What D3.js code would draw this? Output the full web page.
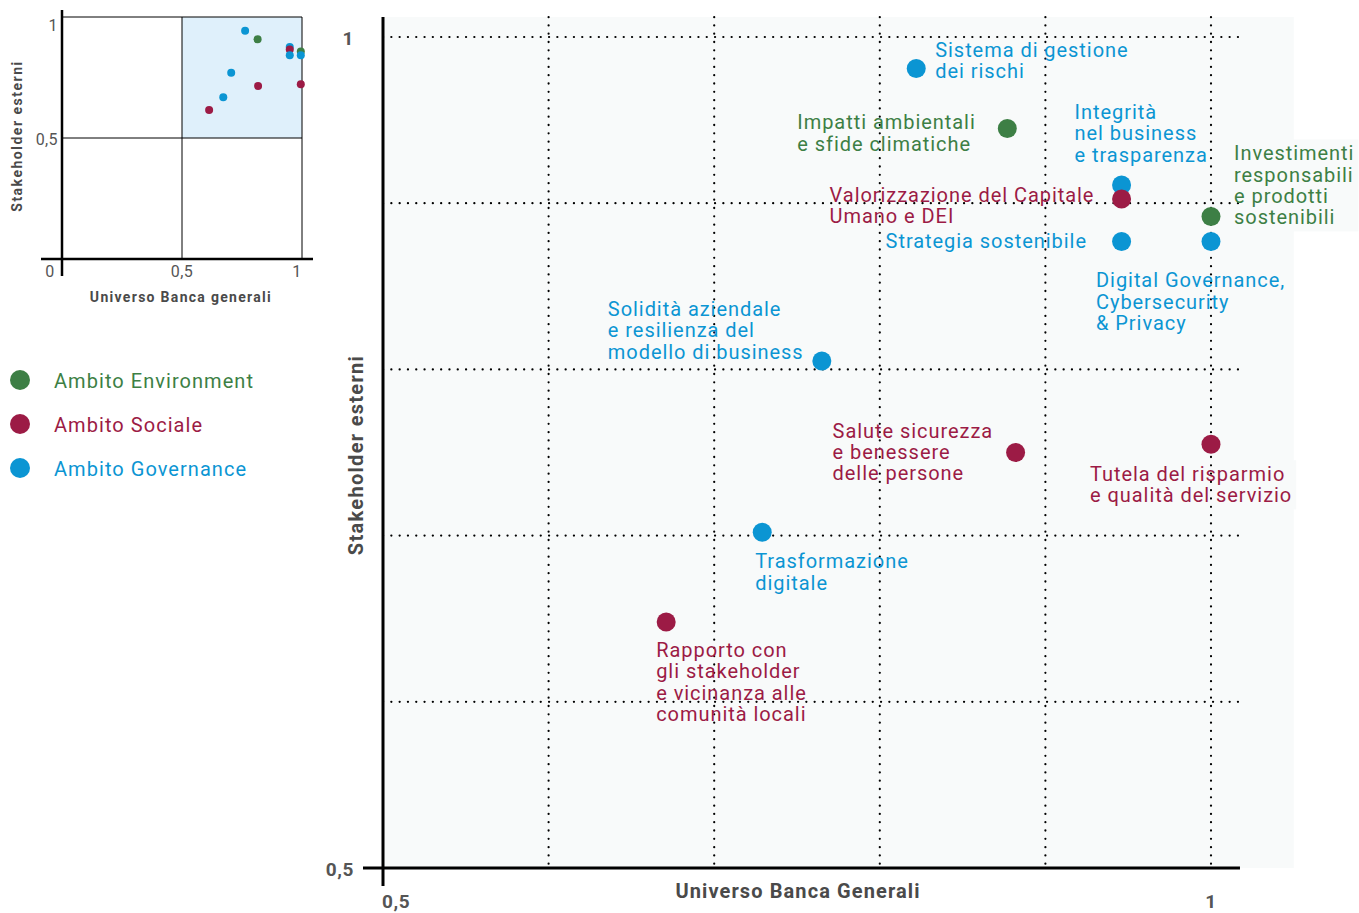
<!DOCTYPE html>
<html><head><meta charset="utf-8">
<script src="https://cdn.jsdelivr.net/npm/d3@7"></script>
<style>body{margin:0;background:#fff;} svg{display:block;}</style>
</head><body>
<svg id="c" width="1359" height="913"></svg>
<script>
// ---- data ----
const names = [
  ["Sistema di gestione","dei rischi"],
  ["Impatti ambientali","e sfide climatiche"],
  ["Integrità","nel business","e trasparenza"],
  ["Valorizzazione del Capitale","Umano e DEI"],
  ["Investimenti","responsabili","e prodotti","sostenibili"],
  ["Strategia sostenibile"],
  ["Digital Governance,","Cybersecurity","& Privacy"],
  ["Solidità aziendale","e resilienza del","modello di business"],
  ["Salute sicurezza","e benessere","delle persone"],
  ["Tutela del risparmio","e qualità del servizio"],
  ["Trasformazione","digitale"],
  ["Rapporto con","gli stakeholder","e vicinanza alle","comunità locali"]
];
const universo = [0.822, 0.877, 0.946, 0.946, 1.0, 0.946, 1.0, 0.765, 0.882, 1.0, 0.729, 0.671];
const stakeholder = [0.981, 0.945, 0.911, 0.9025, 0.892, 0.877, 0.877, 0.805, 0.750, 0.755, 0.702, 0.648];
const ambito = ["G","E","G","S","E","G","G","G","S","S","G","S"];
// values as drawn in the small overview chart
const universoInset = [0.763, 0.815, 0.949, 0.949, 0.995, 0.949, 0.995, 0.705, 0.817, 0.995, 0.672, 0.613];
const stakeholderInset = [0.943, 0.908, 0.876, 0.866, 0.857, 0.842, 0.842, 0.770, 0.715, 0.722, 0.668, 0.616];
const ambitoKeys = ["E","S","G"];
const ambitoLabels = ["Ambito Environment","Ambito Sociale","Ambito Governance"];
const ambitoColors = ["#3d7f45","#9c1b45","#0b95d3"];
const gridTicks = [0.6,0.7,0.8,0.9,1.0];
const mainTicks = [0.5,1];
const mainTickLabels = ["0,5","1"];
const insetTicks = [0,0.5,1];
const insetTickLabels = ["0","0,5","1"];

// label layout: [dx, dy of first line centre]
const labelLayout = [
  [19,-19],[-210,-6],[-47,-73],[-292,-4],
  [23,-63],[-236,0],[-115,39],[-214,-52],
  [-183,-22],[-121,30],[-7,29],[-10,28]
];

const color = d3.scaleOrdinal().domain(ambitoKeys).range(ambitoColors);
const FONT = "Roboto, 'Liberation Sans', sans-serif";
const svg = d3.select("#c").style("font-family", FONT);
const BG = "#f8fafa";

// ---- main chart ----
const x = d3.scaleLinear().domain([0.5,1]).range([383,1211]);
const y = d3.scaleLinear().domain([0.5,1]).range([868,37]);
const m = svg.append("g");
m.append("rect").attr("x",x(0.5)).attr("y",y(1.012)).attr("width",x(1.05)-x(0.5)).attr("height",y(0.5)-y(1.012)).attr("fill",BG);
const bgLayer = m.append("g");
// grid
m.selectAll(".vg").data(gridTicks).join("line")
  .attr("x1",d=>x(d)).attr("x2",d=>x(d)).attr("y1",y(1.012)).attr("y2",y(0.5))
  .attr("stroke","#000").attr("stroke-width",2.2).attr("stroke-linecap","round").attr("stroke-dasharray","0.1,8.2");
m.selectAll(".hg").data(gridTicks).join("line")
  .attr("x1",x(0.5)).attr("x2",x(1.019)).attr("y1",d=>y(d)).attr("y2",d=>y(d))
  .attr("stroke","#000").attr("stroke-width",2.2).attr("stroke-linecap","round").attr("stroke-dasharray","0.1,8.2");
// axes
m.append("line").attr("x1",x(0.5)).attr("x2",x(0.5)).attr("y1",y(1.012)).attr("y2",y(0.5)+18).attr("stroke","#000").attr("stroke-width",3);
m.append("line").attr("x1",x(0.5)-20).attr("x2",x(1.0175)).attr("y1",y(0.5)).attr("y2",y(0.5)).attr("stroke","#000").attr("stroke-width",3);
// tick labels
m.selectAll(".yt").data(mainTicks).join("text")
  .attr("x",354).attr("y",d=>y(d)+1).attr("dy","0.35em").attr("text-anchor","end")
  .attr("font-size",19).attr("letter-spacing",0.6).attr("font-weight","bold").attr("fill","#555")
  .text((d,i)=>mainTickLabels[i]);
m.selectAll(".xt").data(mainTicks).join("text")
  .attr("x",(d,i)=>i===0?x(d)-1:x(d)).attr("y",901).attr("dy","0.35em").attr("text-anchor",(d,i)=>i===0?"start":"middle")
  .attr("font-size",19).attr("letter-spacing",0.6).attr("font-weight","bold").attr("fill","#555")
  .text((d,i)=>mainTickLabels[i]);
m.append("text").attr("x",798).attr("y",891).attr("dy","0.35em").attr("text-anchor","middle")
  .attr("font-size",20).attr("letter-spacing",1.1).attr("font-weight","bold").attr("fill","#4a4a4a").text("Universo Banca Generali");
m.append("text").attr("transform","translate(356,455) rotate(-90)").attr("dy","0.35em").attr("text-anchor","middle")
  .attr("font-size",20).attr("letter-spacing",1.3).attr("font-weight","bold").attr("fill","#4a4a4a").text("Stakeholder esterni");

// labels
const lh = 21.3;
const lab = m.selectAll(".lab").data(names).join("text")
  .attr("font-size",20).attr("letter-spacing",0.95).attr("fill",(d,i)=>color(ambito[i]));
lab.each(function(d,i){
  const t = d3.select(this);
  d.forEach((ln,k)=>{
    t.append("tspan").attr("x",x(universo[i])+labelLayout[i][0])
      .attr("y",y(stakeholder[i])+labelLayout[i][1]+k*lh).attr("dy","0.35em").text(ln);
  });
  const b = this.getBBox();
  bgLayer.append("rect").attr("x",b.x-2).attr("y",b.y-2).attr("width",b.width+6).attr("height",b.height+4).attr("fill",BG);
});
// points
m.selectAll(".pt").data(universo).join("circle")
  .attr("cx",d=>x(d)).attr("cy",(d,i)=>y(stakeholder[i])).attr("r",9.5)
  .attr("fill",(d,i)=>color(ambito[i]));

// ---- inset ----
const ix = d3.scaleLinear().domain([0,1]).range([62,302]);
const iy = d3.scaleLinear().domain([0,1]).range([259,17]);
const g = svg.append("g");
g.append("rect").attr("x",ix(0.5)).attr("y",iy(1)).attr("width",ix(1)-ix(0.5)).attr("height",iy(0.5)-iy(1)).attr("fill","#dff0fb");
[0.5,1].forEach(v=>{
  g.append("line").attr("x1",ix(0)).attr("x2",ix(1)).attr("y1",iy(v)).attr("y2",iy(v)).attr("stroke","#000").attr("stroke-width",1);
  g.append("line").attr("x1",ix(v)).attr("x2",ix(v)).attr("y1",iy(1)).attr("y2",iy(0)).attr("stroke","#000").attr("stroke-width",1);
});
g.append("line").attr("x1",ix(0)).attr("x2",ix(0)).attr("y1",iy(1)-7).attr("y2",iy(0)+17).attr("stroke","#000").attr("stroke-width",2.5);
g.append("line").attr("x1",ix(0)-21).attr("x2",ix(1)+11).attr("y1",iy(0)).attr("y2",iy(0)).attr("stroke","#000").attr("stroke-width",2.5);
g.selectAll(".iyt").data(insetTicks.slice(1)).join("text")
  .attr("x",58).attr("y",d=>iy(d)+(d===1?8:1)).attr("dy","0.35em").attr("text-anchor","end")
  .attr("font-size",16).attr("letter-spacing",0.4).attr("fill","#555").text((d,i)=>insetTickLabels[i+1]);
g.selectAll(".ixt").data(insetTicks).join("text")
  .attr("x",d=>d===0?50:ix(d)-(d===1?5:0)).attr("y",271).attr("dy","0.35em").attr("text-anchor","middle")
  .attr("font-size",16).attr("letter-spacing",0.4).attr("fill","#555").text((d,i)=>insetTickLabels[i]);
g.append("text").attr("x",181).attr("y",297).attr("dy","0.35em").attr("text-anchor","middle")
  .attr("font-size",14).attr("letter-spacing",1.3).attr("font-weight","bold").attr("fill","#4a4a4a").text("Universo Banca generali");
g.append("text").attr("transform","translate(17,136) rotate(-90)").attr("dy","0.35em").attr("text-anchor","middle")
  .attr("font-size",14).attr("letter-spacing",1.5).attr("font-weight","bold").attr("fill","#4a4a4a").text("Stakeholder esterni");
g.selectAll(".ipt").data(universoInset).join("circle")
  .attr("cx",d=>ix(d)).attr("cy",(d,i)=>iy(stakeholderInset[i])).attr("r",4)
  .attr("fill",(d,i)=>color(ambito[i]));

// ---- legend ----
const lg = svg.append("g");
lg.selectAll("circle").data(ambitoKeys).join("circle")
  .attr("cx",20).attr("cy",(d,i)=>380+i*44).attr("r",10).attr("fill",d=>color(d));
lg.selectAll("text").data(ambitoKeys).join("text")
  .attr("x",54).attr("y",(d,i)=>381+i*44).attr("dy","0.35em")
  .attr("font-size",20).attr("letter-spacing",1.05).attr("fill",d=>color(d)).text((d,i)=>ambitoLabels[i]);
</script>
</body></html>
